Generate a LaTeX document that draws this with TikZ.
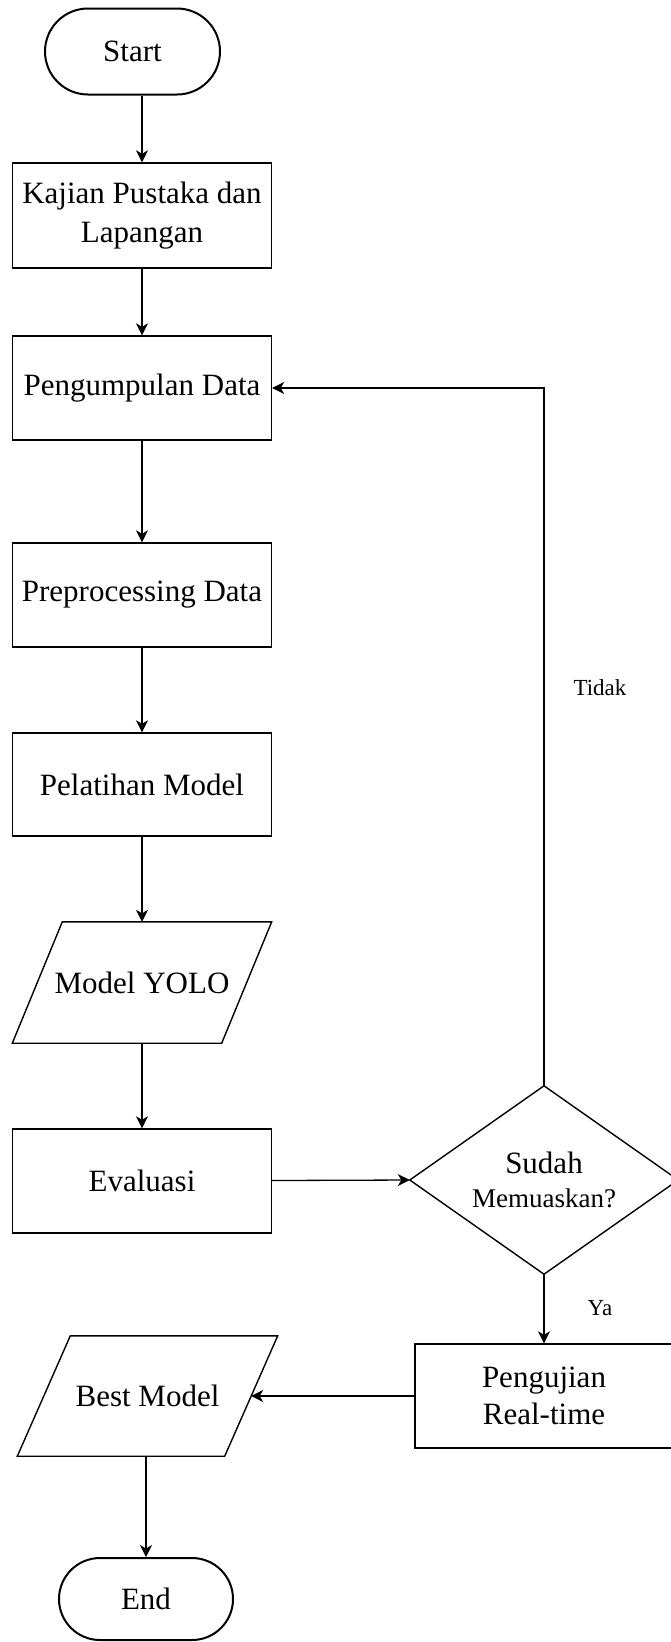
\documentclass[tikz,border=0pt]{standalone}
\usepackage{fontspec}
\setmainfont{Liberation Serif}
\usetikzlibrary{arrows.meta}
\begin{document}
\begin{tikzpicture}[x=1pt,y=-1pt,
  every node/.style={font=\fontsize{31}{38.5}\selectfont, inner sep=0pt, align=center},
  procbox/.style={draw, line width=1.4pt, minimum width=259, minimum height=104},
  termbox/.style={draw, line width=2pt, rounded corners=43, minimum width=175, minimum height=86},
  iobox/.style={minimum width=259, minimum height=121},
  ioline/.style={line width=1.4pt},
  decbox/.style={minimum width=268, minimum height=188},
  lbl/.style={font=\fontsize{23}{26}\selectfont},
  arr/.style={line width=1.3pt, -{Stealth[length=12pt, width=12pt, inset=3.5pt]}}
]
\useasboundingbox (0,0) rectangle (671,1642);
\fill[white] (0,0) rectangle (671,1642);

\node[termbox] (start) at (132.5,51.5) {Start};
\node[procbox, minimum height=105] (kajian) at (142,215.5) {Kajian Pustaka dan\\Lapangan};
\node[procbox] (kumpul) at (142,388) {Pengumpulan Data};
\node[procbox] (prep) at (142,595) {Preprocessing Data};
\node[procbox, minimum height=103] (latih) at (142,784.5) {Pelatihan Model};
\node[iobox] (yolo) at (142,982.5) {Model YOLO};
\draw[ioline] ([xshift=50]yolo.north west) -- (yolo.north east)
   -- ([xshift=-50]yolo.south east) -- (yolo.south west) -- cycle;
\node[procbox] (eval) at (142,1181) {Evaluasi};
\node[decbox] (dec) at (544,1180) {};
\draw[ioline] (dec.north) -- (dec.east) -- (dec.south) -- (dec.west) -- cycle;
\node (dectext) at (544,1180) {Sudah\\[-4pt]{\fontsize{27}{32}\selectfont Memuaskan?}};
\node[procbox, minimum width=258] (uji) at (544,1396) {Pengujian\\[-2pt]Real-time};
\node[iobox, minimum width=260, minimum height=120] (best) at (147.5,1396) {Best Model};
\draw[ioline] ([xshift=53]best.north west) -- (best.north east)
   -- ([xshift=-53]best.south east) -- (best.south west) -- cycle;
\node[termbox, minimum width=174, minimum height=82, rounded corners=41] (end) at (146,1599) {End};

\node[lbl] (tidak) at (600,688) {Tidak};
\node[lbl] (ya) at (600,1308) {Ya};

\draw[arr] (start.south -| kajian.north) -- (kajian.north);
\draw[arr] (kajian) -- (kumpul);
\draw[arr] (kumpul) -- (prep);
\draw[arr] (prep) -- (latih);
\draw[arr] (latih) -- (yolo);
\draw[arr] (yolo) -- (eval);
\draw[arr] (eval) -- (dec.west);
\draw[arr] (dec.north) |- (kumpul.east);
\draw[arr] (dec.south) -- (uji.north);
\draw[arr] (uji.west) -- ([xshift=-26.5]best.east);
\draw[arr] (best.south -| end.north) -- (end.north);
\end{tikzpicture}
\end{document}
